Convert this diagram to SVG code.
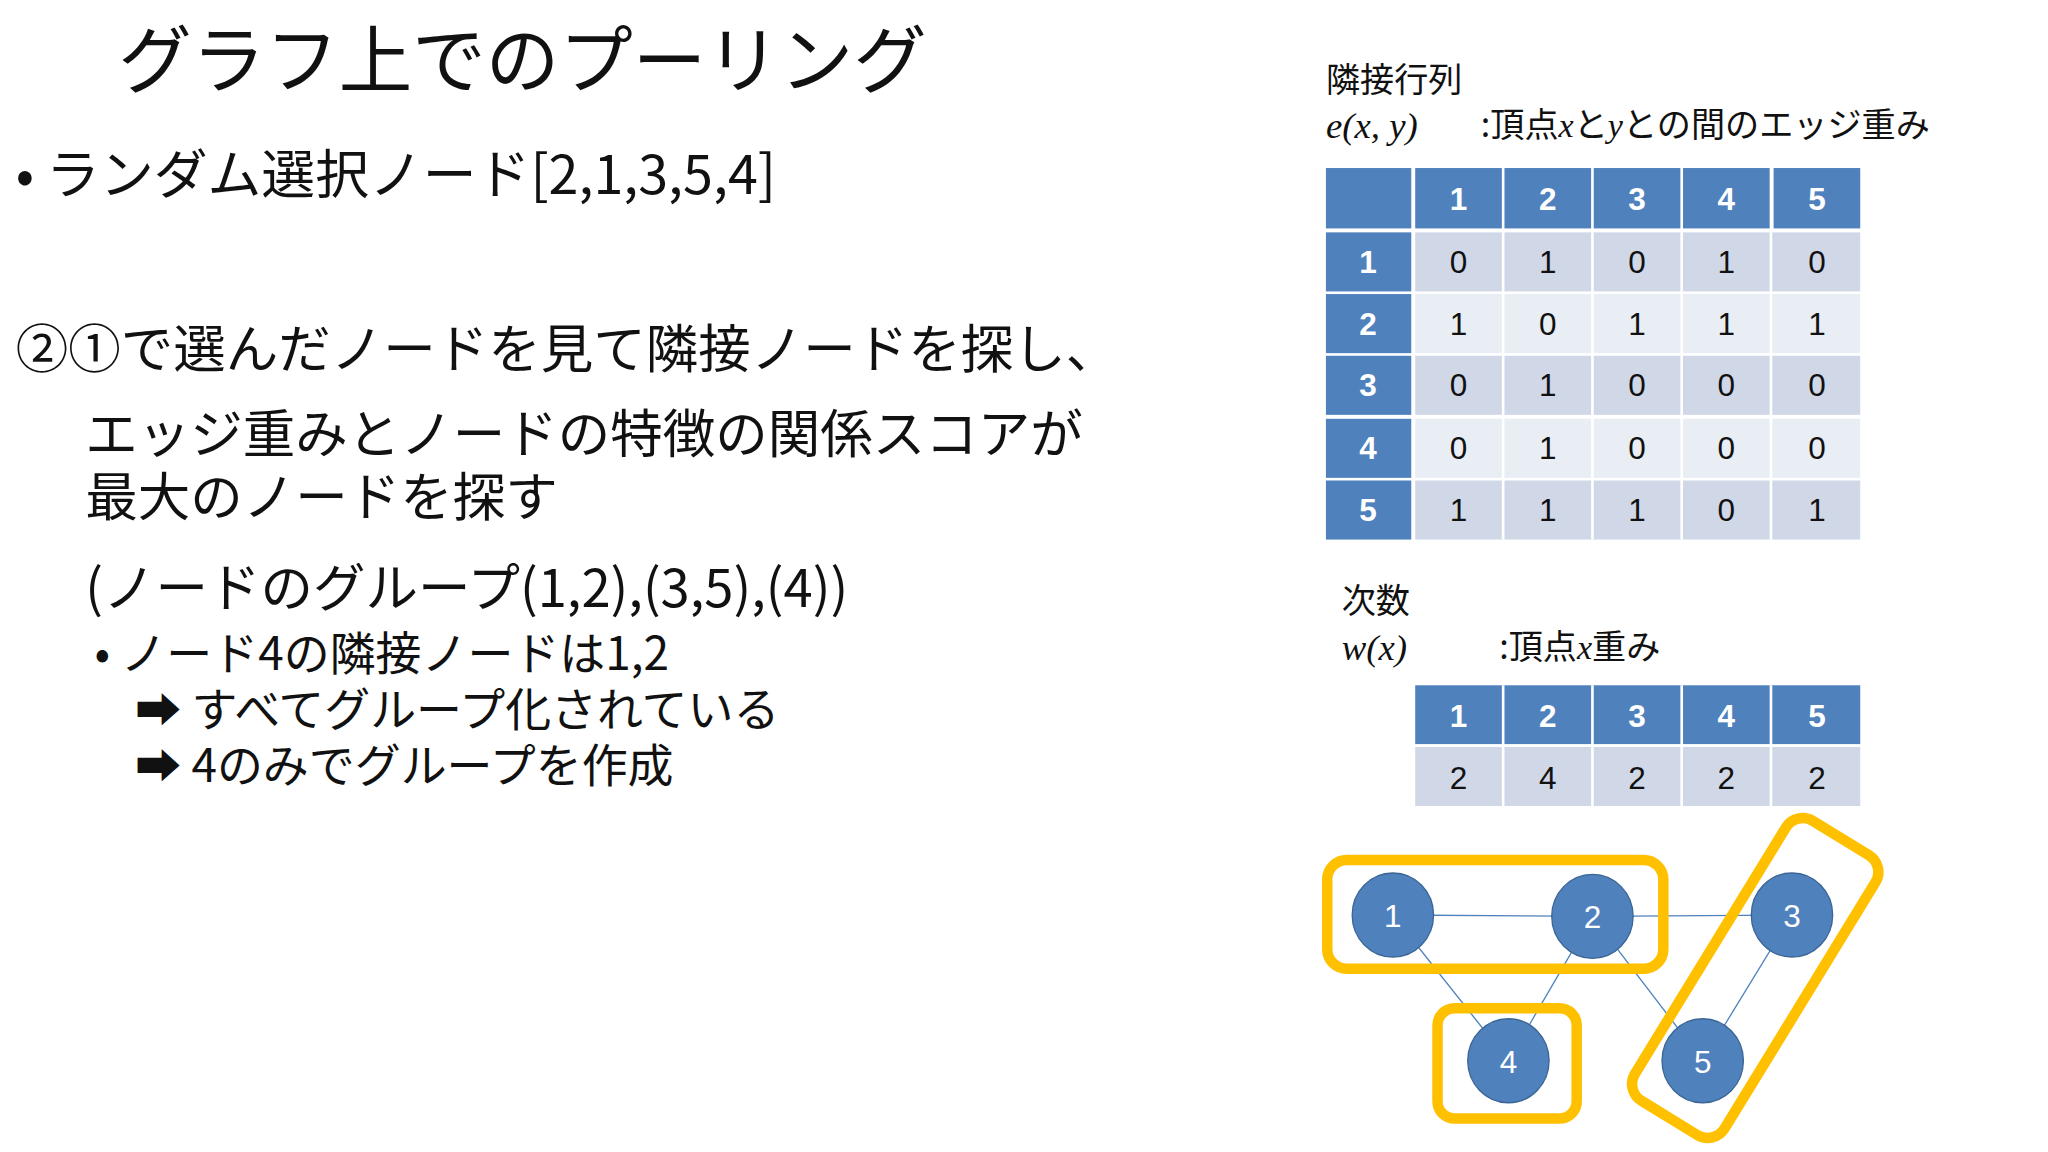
<svg xmlns="http://www.w3.org/2000/svg" width="2048" height="1152" viewBox="0 0 2048 1152">
<style>
.t{font-family:"Noto Sans CJK JP","Liberation Sans",sans-serif;fill:#111}
.m{font-family:"Liberation Serif",serif;font-style:italic;fill:#111}
.hd{fill:#4f81bd}.o{fill:#d0d8e8}.e{fill:#e9edf4}
.hx{font-family:"Liberation Sans","Noto Sans",sans-serif;font-weight:bold;font-size:24px;fill:#fff;text-anchor:middle}
.cx{font-family:"Liberation Sans","Noto Sans",sans-serif;font-size:24px;fill:#111;text-anchor:middle}
.nd{fill:#4f81bd;stroke:#3a6595;stroke-width:1}
.nl{font-family:"Liberation Sans",sans-serif;font-size:24px;fill:#fff;text-anchor:middle}
.ed{stroke:#4f81bd;stroke-width:1}
.yb{fill:none;stroke:#ffc000;stroke-width:8}
</style>
<rect width="2048" height="1152" fill="#fff"/>
<g transform="scale(1.3128)">
<g id="text">
<text class="t" x="90" y="66" font-size="56">グラフ上でのプーリング</text>
<text class="t" x="12" y="148" font-size="41">• ランダム選択ノード[2,1,3,5,4]</text>
<text class="t" x="12" y="280" font-size="40">②①で選んだノードを見て隣接ノードを探し、</text>
<text class="t" x="65" y="345" font-size="40">エッジ重みとノードの特徴の関係スコアが</text>
<text class="t" x="65" y="393" font-size="40">最大のノードを探す</text>
<text class="t" x="65" y="462" font-size="40">(ノードのグループ(1,2),(3,5),(4))</text>
<text class="t" x="72" y="510" font-size="35">• ノード4の隣接ノードは1,2</text>
<text class="t" x="103" y="553" font-size="35">➡ すべてグループ化されている</text>
<text class="t" x="103" y="596" font-size="35">➡ 4のみでグループを作成</text>
</g>
<g transform="translate(-5,0)">
<g id="labels">
<text class="t" x="1015" y="70" font-size="26">隣接行列</text>
<text class="m" x="1015" y="105" font-size="28">e(x, y)</text>
<text class="t" x="1133" y="104" font-size="26">:頂点<tspan class="m">x</tspan>と<tspan class="m">y</tspan>との間のエッジ重み</text>
<text class="t" x="1027" y="467" font-size="26">次数</text>
<text class="m" x="1027" y="503" font-size="28">w(x)</text>
<text class="t" x="1147" y="502" font-size="26">:頂点<tspan class="m">x</tspan>重み</text>
</g>
<g id="matrix">
<rect class="hd" x="1015" y="128" width="65" height="46"/>
<rect class="hd" x="1083" y="128" width="66" height="46"/><rect class="hd" x="1151" y="128" width="66" height="46"/><rect class="hd" x="1219" y="128" width="66" height="46"/><rect class="hd" x="1287" y="128" width="66" height="46"/><rect class="hd" x="1356" y="128" width="66" height="46"/>
<text class="hx" x="1116" y="160">1</text><text class="hx" x="1184" y="160">2</text><text class="hx" x="1252" y="160">3</text><text class="hx" x="1320" y="160">4</text><text class="hx" x="1389" y="160">5</text>
<rect class="hd" x="1015" y="177" width="65" height="45"/><rect class="hd" x="1015" y="224" width="65" height="45"/><rect class="hd" x="1015" y="271" width="65" height="45"/><rect class="hd" x="1015" y="319" width="65" height="45"/><rect class="hd" x="1015" y="366" width="65" height="45"/>
<text class="hx" x="1047" y="208">1</text><text class="hx" x="1047" y="255">2</text><text class="hx" x="1047" y="302">3</text><text class="hx" x="1047" y="350">4</text><text class="hx" x="1047" y="397">5</text>
<rect class="o" x="1083" y="177" width="339" height="45"/><rect class="e" x="1083" y="224" width="339" height="45"/><rect class="o" x="1083" y="271" width="339" height="45"/><rect class="e" x="1083" y="319" width="339" height="45"/><rect class="o" x="1083" y="366" width="339" height="45"/>
<g stroke="#fff" stroke-width="2"><line x1="1150" y1="177" x2="1150" y2="411"/><line x1="1218" y1="177" x2="1218" y2="411"/><line x1="1286" y1="177" x2="1286" y2="411"/><line x1="1354" y1="177" x2="1354" y2="411"/></g>
<text class="cx" x="1116" y="208">0</text><text class="cx" x="1184" y="208">1</text><text class="cx" x="1252" y="208">0</text><text class="cx" x="1320" y="208">1</text><text class="cx" x="1389" y="208">0</text>
<text class="cx" x="1116" y="255">1</text><text class="cx" x="1184" y="255">0</text><text class="cx" x="1252" y="255">1</text><text class="cx" x="1320" y="255">1</text><text class="cx" x="1389" y="255">1</text>
<text class="cx" x="1116" y="302">0</text><text class="cx" x="1184" y="302">1</text><text class="cx" x="1252" y="302">0</text><text class="cx" x="1320" y="302">0</text><text class="cx" x="1389" y="302">0</text>
<text class="cx" x="1116" y="350">0</text><text class="cx" x="1184" y="350">1</text><text class="cx" x="1252" y="350">0</text><text class="cx" x="1320" y="350">0</text><text class="cx" x="1389" y="350">0</text>
<text class="cx" x="1116" y="397">1</text><text class="cx" x="1184" y="397">1</text><text class="cx" x="1252" y="397">1</text><text class="cx" x="1320" y="397">0</text><text class="cx" x="1389" y="397">1</text>
</g>
<g id="degree">
<rect class="hd" x="1083" y="522" width="339" height="45"/>
<rect class="o" x="1083" y="569" width="339" height="45"/>
<g stroke="#fff" stroke-width="2"><line x1="1150" y1="522" x2="1150" y2="614"/><line x1="1218" y1="522" x2="1218" y2="614"/><line x1="1286" y1="522" x2="1286" y2="614"/><line x1="1354" y1="522" x2="1354" y2="614"/><line x1="1083" y1="568" x2="1422" y2="568"/></g>
<text class="hx" x="1116" y="554">1</text><text class="hx" x="1184" y="554">2</text><text class="hx" x="1252" y="554">3</text><text class="hx" x="1320" y="554">4</text><text class="hx" x="1389" y="554">5</text>
<text class="cx" x="1116" y="601">2</text><text class="cx" x="1184" y="601">4</text><text class="cx" x="1252" y="601">2</text><text class="cx" x="1320" y="601">2</text><text class="cx" x="1389" y="601">2</text>
</g>
<g id="connectors">
<line class="ed" x1="1066" y1="697" x2="1218" y2="698"/>
<line class="ed" x1="1218" y1="698" x2="1370" y2="697"/>
<line class="ed" x1="1066" y1="697" x2="1154" y2="808"/>
<line class="ed" x1="1218" y1="698" x2="1154" y2="808"/>
<line class="ed" x1="1218" y1="698" x2="1302" y2="808"/>
<line class="ed" x1="1370" y1="697" x2="1302" y2="808"/>
</g>
<g id="n1"><ellipse class="nd" cx="1066" cy="697" rx="31" ry="32"/><text class="nl" x="1066" y="706">1</text></g>
<g id="n2"><ellipse class="nd" cx="1218" cy="698" rx="31" ry="32"/><text class="nl" x="1218" y="707">2</text></g>
<g id="n3"><ellipse class="nd" cx="1370" cy="697" rx="31" ry="32"/><text class="nl" x="1370" y="706">3</text></g>
<g id="n4"><ellipse class="nd" cx="1154" cy="808" rx="31" ry="32"/><text class="nl" x="1154" y="817">4</text></g>
<g id="n5"><ellipse class="nd" cx="1302" cy="808" rx="31" ry="32"/><text class="nl" x="1302" y="817">5</text></g>
<g id="groups">
<rect class="yb" x="1016" y="655" width="256" height="83" rx="15"/>
<rect class="yb" x="1100" y="768" width="106" height="84" rx="13"/>
<rect class="yb" x="1217" y="705" width="250" height="80" rx="15" transform="rotate(-58.5 1342 745)"/>
</g>
</g>
</g>
</svg>
